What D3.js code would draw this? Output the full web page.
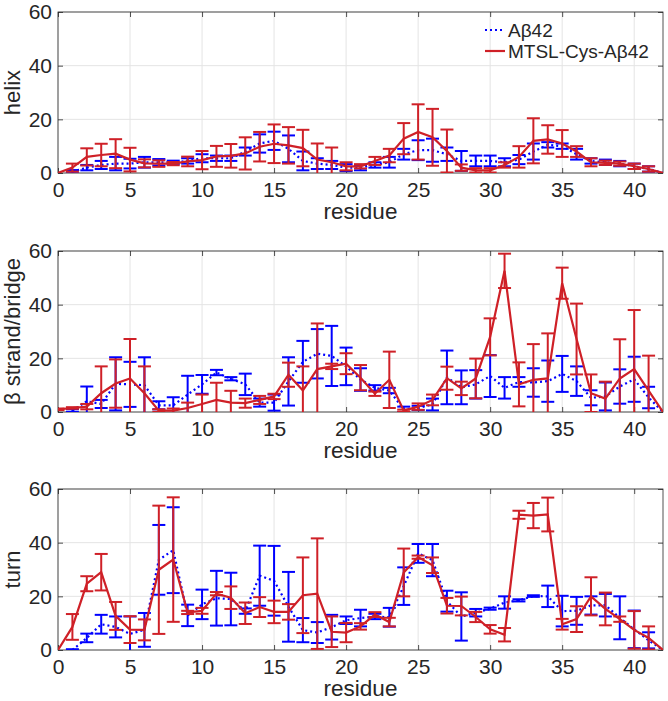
<!DOCTYPE html>
<html>
<head>
<meta charset="utf-8">
<script src="https://cdn.jsdelivr.net/npm/d3@7/dist/d3.min.js"></script>
<style>
  body { margin: 0; background: #fff; }
  text { font-family: "Liberation Sans", Arial, Helvetica, sans-serif; fill: #262626; }
</style>
</head>
<body>
<div id="chart"></div>
<script>
// residue numbers (x categories)
var residues = [0,1,2,3,4,5,6,7,8,9,10,11,12,13,14,15,16,17,18,19,20,21,22,23,24,25,26,27,28,29,30,31,32,33,34,35,36,37,38,39,40,41,42];
var xTicks = [0,5,10,15,20,25,30,35,40];
var yTicks = [0,20,40,60];
var seriesNames = ["A\u03b242", "MTSL-Cys-A\u03b242"];

// helix (%) : Abeta42 (blue) and MTSL-Cys-Abeta42 (red), mean and error
var helixA    = [null,0.5,2,3,3.5,3.5,4,4,4,4.5,5.5,5.5,5.5,8,11,12,9,4.5,3.5,3,2,2,3,4,7,8.5,8.5,7,4.5,4.5,4.5,4,5,8,10.5,10,7,4.5,4,3.5,2.5,1.5,0];
var helixAErr = [0,0.6,1,1.5,2.5,1.8,2,1.2,0.6,1,1.5,1,1,1.5,3.4,3.4,5,3.5,2,1.5,1.3,1,1,2,2,3.7,4.3,2.5,3.7,2,2,1.5,1.7,3,1,1,2,1,1,1,1,1,0];
var helixM    = [0,2,6,6.7,7.2,5,3.6,3.5,3.5,4.3,4.8,6.2,6.4,7.3,9.8,10.9,10.3,9.3,5,4,2.5,2.5,4.5,6.5,12.8,15.3,13.3,8.2,2,1,1,3,6,12,12.5,11,8,4,3.8,3.5,2.5,1.5,0];
var helixMErr = [0,1.5,3.2,4.2,5.4,4.4,1.5,1.2,0.6,1.8,3.4,3.9,4.4,6,5.5,7.2,6.8,6.8,6,5.5,1.5,0.8,1.5,2.5,5.8,10.3,10.6,8,1.2,0.8,0.8,1,4,8.4,5.3,5,2,1.5,0.8,0.8,1,1,0];

// beta strand/bridge (%)
var strandA    = [null,0.5,4,3,10.5,10.3,10,2.5,2.5,6.5,10.3,14.7,12.4,10.3,3.5,3.5,11.4,18.7,21.7,20.9,17,12.1,9,8,1,1.5,2.8,12.9,9.2,10.3,13.4,9,11.2,11,11.5,14.2,11.5,5.3,5.8,9.5,12.2,5.4,0];
var strandAErr = [0,0.5,5.5,1.5,9.9,8.4,10.4,1.5,3,7,3.5,1,0.6,4,1.5,3,9,7.8,9.2,11.2,7,4.2,1,1,1,0.8,2.2,10,6.3,5.3,7.8,4,1.8,5.3,7.7,6.7,5.5,2.8,5.2,6.4,8.4,4,0];
var strandM    = [1,1.5,2,7,10.6,12.5,7,0.5,0.5,1.5,3,4.5,3.5,3.3,4.5,5.8,13.9,8,16,17,18,12.8,6.8,12,0.5,2,4.5,12.6,8.8,12.5,28,52.6,10.3,12,12.5,48,27.2,7,5,12.5,16,8,0];
var strandMErr = [0.3,0.3,1,10,9,14.7,10,0.5,0.8,2,3.5,6.4,4.4,1.7,1.5,1,4.5,9,17,1,3.9,4.7,0.8,10.5,0.4,1.2,2,4.3,2.5,7.4,6.9,6.4,8.2,13.3,16.8,5.8,13.2,7,6.3,14.6,22,13,0];

// turn (%)
var turnA    = [null,0,4.5,9.6,8.6,6,7.5,33.6,37.2,12.9,17,19.3,19,14.5,27.7,25.8,16.1,7.4,6.5,8.5,11.1,11.9,12.5,12.2,23.8,36,33.5,18.2,12.5,13.9,15.4,17.7,18.5,20.1,20,14.5,14.6,16.6,16.7,12,7.7,3.6,0];
var turnAErr = [0,0.3,1.6,3.5,3.9,6.5,6.3,13,16,4,5.5,10.2,9.8,1,11.2,13,13,4.5,3.9,4.6,1.4,3.1,1,3.5,7,3.5,6,3.9,9,1.4,0.4,2.3,0.4,0.3,4,5.7,5.2,3.4,4.2,8,7,3,0];
var turnM    = [0,8.6,24.7,29,12.7,7.6,7.5,29.9,33.7,14,14.6,21,19.5,13.7,16,14.2,14.2,20.4,21,6.8,6.5,8.8,13.2,10.4,28.9,34.6,31.6,16.5,16.4,12.3,7.7,5.7,50.4,50.1,50.5,9.6,11.5,20,15.3,11.5,7.5,4.5,0];
var turnMErr = [0,4.8,2.8,6.8,5.2,5,3.9,23.9,23.2,0.6,1.1,0.6,4.2,4,3.7,4.2,2.9,14.1,20.6,5.7,3.6,1.2,0.9,1.6,8.9,0.6,2.9,2.9,3.5,1.9,1.6,2.5,1.5,4.7,6.3,2,4.8,7.1,6.1,1,7,4.3,0];

var svgWidth = 668;
var svgHeight = 701;
var margin = { left: 58, right: 5 };
var width = svgWidth - margin.left - margin.right;
var height = 161;
var panelTops = [12, 251, 489];

var blue = "#0000ff";
var red = "#cf2027";
var capHalf = 6.5;

var panels = [
  { label: "helix", a: helixA, aErr: helixAErr, m: helixM, mErr: helixMErr },
  { label: "\u03b2 strand/bridge", a: strandA, aErr: strandAErr, m: strandM, mErr: strandMErr },
  { label: "turn", a: turnA, aErr: turnAErr, m: turnM, mErr: turnMErr }
];

var svg = d3.select("#chart")
  .append("svg")
  .attr("width", svgWidth)
  .attr("height", svgHeight);

var xScale = d3.scaleLinear().domain([0, 42]).range([0, width]);
var yScale = d3.scaleLinear().domain([0, 60]).range([height, 0]);

panels.forEach(function(p, i) {
  var g = svg.append("g")
    .attr("transform", `translate(${margin.left}, ${panelTops[i]})`);

  svg.append("clipPath").attr("id", "clip" + i)
    .append("rect").attr("width", width).attr("height", height);

  // grid
  g.append("g").selectAll("line").data(xTicks).enter().append("line")
    .attr("x1", d => xScale(d)).attr("x2", d => xScale(d))
    .attr("y1", 0).attr("y2", height)
    .attr("stroke", "#e4e4e4").attr("stroke-width", 1);
  g.append("g").selectAll("line").data(yTicks).enter().append("line")
    .attr("x1", 0).attr("x2", width)
    .attr("y1", d => yScale(d)).attr("y2", d => yScale(d))
    .attr("stroke", "#e4e4e4").attr("stroke-width", 1);

  // axes (ticks inside, MATLAB style)
  var xAxis = d3.axisBottom(xScale).tickValues(xTicks).tickSizeInner(-5).tickSizeOuter(0).tickPadding(9);
  var yAxis = d3.axisLeft(yScale).tickValues(yTicks).tickSizeInner(-5).tickSizeOuter(0).tickPadding(6);
  var xTop = d3.axisTop(xScale).tickValues(xTicks).tickSizeInner(-5).tickSizeOuter(0).tickFormat("");
  var yRight = d3.axisRight(yScale).tickValues(yTicks).tickSizeInner(-5).tickSizeOuter(0).tickFormat("");

  [
    g.append("g").attr("transform", `translate(0,${height})`).call(xAxis),
    g.append("g").call(yAxis),
    g.append("g").call(xTop),
    g.append("g").attr("transform", `translate(${width},0)`).call(yRight)
  ].forEach(function(ax) {
    ax.select(".domain").remove();
    ax.selectAll(".tick line").attr("stroke", "#262626").attr("stroke-width", 0.8);
    ax.selectAll(".tick text").attr("font-size", 21).attr("fill", "#262626")
      .style("font-family", "'Liberation Sans', Arial, Helvetica, sans-serif");
  });

  g.append("rect")
    .attr("width", width).attr("height", height)
    .attr("fill", "none").attr("stroke", "#262626").attr("stroke-width", 0.8);

  // x label
  g.append("text")
    .attr("x", width / 2).attr("y", height + 46)
    .attr("text-anchor", "middle").attr("font-size", 22.5)
    .text("residue");

  // y label
  g.append("text")
    .attr("transform", `translate(-38, ${height / 2}) rotate(-90)`)
    .attr("text-anchor", "middle").attr("font-size", 22)
    .text(p.label);

  var plot = g.append("g").attr("clip-path", `url(#clip${i})`);

  function drawSeries(vals, errs, color, dash) {
    var pts = residues.map((r, k) => ({ r: r, v: vals[k], e: errs[k] }))
      .filter(d => d.v !== null);
    var eb = plot.append("g").attr("stroke", color).attr("stroke-width", 2).attr("fill", "none");
    pts.filter(d => d.e > 0).forEach(function(d) {
      var cx = xScale(d.r);
      var y1 = yScale(d.v - d.e), y2 = yScale(d.v + d.e);
      eb.append("line").attr("x1", cx).attr("x2", cx).attr("y1", y1).attr("y2", y2);
      eb.append("line").attr("x1", cx - capHalf).attr("x2", cx + capHalf).attr("y1", y1).attr("y2", y1);
      eb.append("line").attr("x1", cx - capHalf).attr("x2", cx + capHalf).attr("y1", y2).attr("y2", y2);
    });
    var line = d3.line().x(d => xScale(d.r)).y(d => yScale(d.v));
    plot.append("path").datum(pts)
      .attr("d", line)
      .attr("fill", "none")
      .attr("stroke", color)
      .attr("stroke-width", 2.2)
      .attr("stroke-dasharray", dash);
  }

  drawSeries(p.a, p.aErr, blue, "2,3");
  drawSeries(p.m, p.mErr, red, null);

  // legend in first panel
  if (i === 0) {
    var leg = g.append("g");
    [[blue, "2,3", seriesNames[0], 18], [red, null, seriesNames[1], 39]].forEach(function(l) {
      leg.append("line")
        .attr("x1", 427).attr("x2", 447)
        .attr("y1", l[3]).attr("y2", l[3])
        .attr("stroke", l[0]).attr("stroke-width", 2.2)
        .attr("stroke-dasharray", l[1]);
      leg.append("text")
        .attr("x", 450).attr("y", l[3])
        .attr("dy", "0.35em").attr("font-size", 19)
        .text(l[2]);
    });
  }
});
</script>
</body>
</html>
